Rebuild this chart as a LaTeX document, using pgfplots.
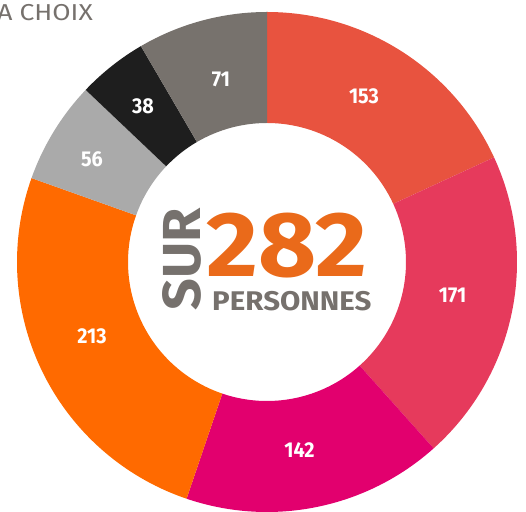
\documentclass[border=0pt]{standalone}
\usepackage{pgfplots}
\pgfplotsset{compat=1.18}
\usepackage{pgfplotstable}
\usepackage{fontspec}
\setmainfont{Fira Sans}
\newfontfamily\lblfont[FakeStretch=0.92]{Fira Sans}
\newfontfamily\widefont[FakeStretch=1.09]{Fira Sans}
\newfontfamily\surfont[FakeStretch=1.04]{Fira Sans}
\newfontfamily\titlefont[FakeStretch=1.15]{Fira Sans}
\definecolor{cA}{HTML}{E8533F}
\definecolor{cB}{HTML}{E63A5C}
\definecolor{cC}{HTML}{E2006E}
\definecolor{cD}{HTML}{FF6A00}
\definecolor{cE}{HTML}{AAAAAA}
\definecolor{cF}{HTML}{1E1E1E}
\definecolor{cG}{HTML}{77726D}
\definecolor{txtgray}{HTML}{76716D}
\definecolor{txtorange}{HTML}{EA6A1A}
\pgfplotstableread{
value col
153 cA
171 cB
142 cC
213 cD
56 cE
38 cF
71 cG
}\piedata
\pgfplotstableread{
x y label
364 414.5 153
452.5 215.5 171
299.5 60.5 142
92 175 213
92 351.5 56
143 405 38
221 431.5 71
}\labeldata
\begin{document}
\begin{tikzpicture}
\useasboundingbox (0,0) rectangle (526pt,511pt);
\clip (0,0) rectangle (526pt,511pt);
\begin{axis}[at={(0,0)}, anchor=south west, scale only axis,
  width=526pt, height=511pt, xmin=0, xmax=526, ymin=0, ymax=511,
  hide axis, clip=false]
\pgfplotstablegetrowsof{\piedata}
\pgfmathtruncatemacro\nrows{\pgfplotsretval-1}
\def\total{0}
\pgfplotsforeachungrouped \i in {0,...,\nrows}{%
  \pgfplotstablegetelem{\i}{value}\of\piedata
  \pgfmathsetmacro\total{\total+\pgfplotsretval}%
}
\def\cum{0}
\pgfplotsforeachungrouped \i in {0,...,\nrows}{%
  \pgfplotstablegetelem{\i}{value}\of\piedata \let\myval\pgfplotsretval
  \pgfplotstablegetelem{\i}{col}\of\piedata \let\mycol\pgfplotsretval
  \pgfmathsetmacro\sa{90-\cum/\total*360}%
  \pgfmathsetmacro\cum{\cum+\myval}%
  \pgfmathsetmacro\ea{90-\cum/\total*360}%
  \edef\tmp{\noexpand\fill[\mycol] (axis cs:267,249) ++(\sa:250pt) arc[start angle=\sa, end angle=\ea, radius=250pt] -- ++(\ea:-111pt) arc[start angle=\ea, end angle=\sa, radius=139pt] -- cycle;}%
  \tmp
}
\addplot[only marks, mark=none, nodes near coords, point meta=explicit symbolic,
  nodes near coords style={anchor=center, text=white, inner sep=0pt,
    font=\lblfont\bfseries\fontsize{21.5}{21.5}\selectfont}]
  table[x=x, y=y, meta=label] {\labeldata};
\node[anchor=base west, inner sep=0pt, text=txtorange,
  font=\widefont\bfseries\fontsize{92}{92}\selectfont] at (axis cs:206,234) {282};
\node[anchor=base west, inner sep=0pt, text=txtgray,
  font=\widefont\bfseries\fontsize{27}{27}\selectfont] at (axis cs:212,200) {PERSONNES};
\node[anchor=base west, inner sep=0pt, text=txtgray, rotate=90,
  font=\surfont\bfseries\fontsize{53.5}{53.5}\selectfont] at (axis cs:200,200) {SUR};
\node[anchor=base east, inner sep=0pt, text=txtgray,
  font=\titlefont\fontsize{23}{23}\selectfont] at (axis cs:93,490) {A CHOIX};
\end{axis}
\end{tikzpicture}
\end{document}
